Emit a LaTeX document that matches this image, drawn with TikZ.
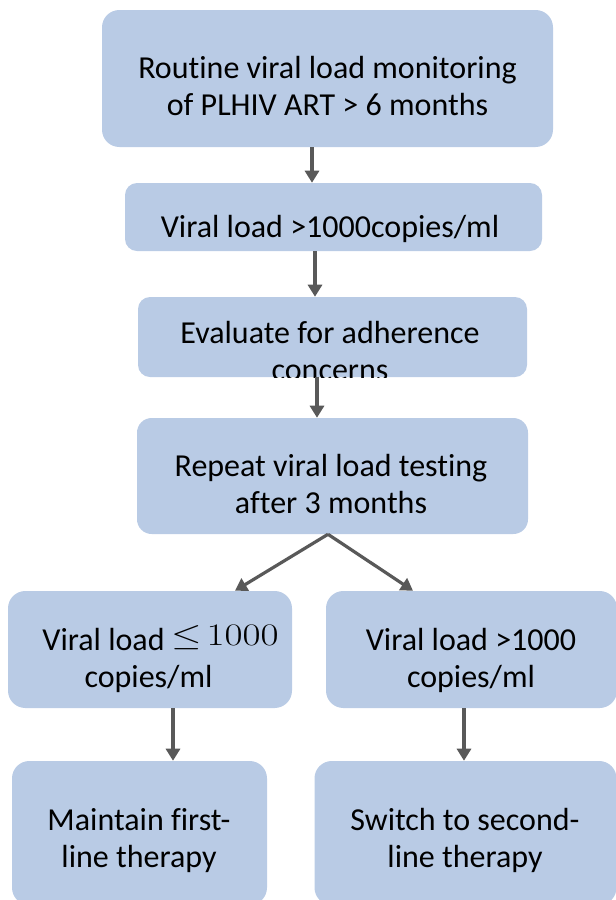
\RequirePackage{fix-cm}
\documentclass[tikz,border=0pt]{standalone}
\usepackage[no-math]{fontspec}
\usepackage{graphicx}
\setmainfont{Carlito}[Ligatures=NoCommon]
\usetikzlibrary{arrows.meta}
\definecolor{boxfill}{HTML}{B9CBE5}
\definecolor{arrowgray}{HTML}{595959}
\tikzset{
  box/.style={fill=boxfill, draw=none, inner sep=0pt, rounded corners=13pt},
  txt/.style={align=center, inner sep=0pt, font=\fontsize{24pt}{27.75pt}\selectfont, text=black, anchor=base},
  arr/.style={draw=arrowgray, line width=2.4pt, -{Triangle[width=10.5pt,length=9pt]}},
}
\begin{document}
\begin{tikzpicture}[x=0.75pt,y=-0.75pt]
\useasboundingbox (0,0) rectangle (616,900);
\begin{scope}
\clip (0,0) rectangle (616,900);
% boxes
\node[box, minimum width=338.25pt, minimum height=102.75pt] (b1) at (327.5,78.5) {};
\node[box, rounded corners=9pt, minimum width=312.75pt, minimum height=51pt] (b2) at (333.5,217) {};
\node[box, rounded corners=9pt, minimum width=291.75pt, minimum height=60pt] (b3) at (332.5,337) {};
\node[box, rounded corners=11pt, minimum width=293.25pt, minimum height=87pt] (b4) at (332.5,476) {};
\node[box, minimum width=213pt, minimum height=87.75pt] (b5) at (150,649.5) {};
\node[box, minimum width=218.25pt, minimum height=87.75pt] (b6) at (471.5,649.5) {};
\node[box, minimum width=191.25pt, minimum height=108pt] (b7) at (139.5,833) {};
\node[box, minimum width=226.5pt, minimum height=108pt] (b8) at (465.5,833) {};
% texts
\node[txt] (t1) at (327.5,115) {Routine viral load monitoring\\of PLHIV ART > 6 months};
\node[txt] (t2) at (330,237) {Viral load >1000copies/ml};
\begin{scope}
\clip (b3.south west) rectangle (b3.north east);
\node[txt] (t3) at (330,380) {Evaluate for adherence\\concerns};
\end{scope}
\node[txt] (t4) at (331,513) {Repeat viral load testing\\after 3 months};
\node[txt] (t5) at (148.5,687) {\hspace*{18pt}Viral load \raisebox{3.75pt}{\scalebox{1.25}[1]{\fontsize{23.5pt}{28pt}\selectfont$\leq\!1000$}}\\copies/ml};
\node[txt] (t6) at (471,687) {Viral load >1000\\copies/ml};
\node[txt] (t7) at (139,867) {Maintain first-\\line therapy};
\node[txt] (t8) at (465,867) {Switch to second-\\line therapy};
\end{scope}
% connector anchors
\coordinate (x1) at (312,0);
\coordinate (x2) at (315,0);
\coordinate (x3) at (317,0);
\coordinate (x4) at (328,0);
\coordinate (x5a) at (235,0);
\coordinate (x5b) at (413,0);
\coordinate (x6) at (173,0);
\coordinate (x7) at (464,0);
\draw[arr] (b1.south -| x1) -- (b2.north -| x1);
\draw[arr] (b2.south -| x2) -- (b3.north -| x2);
\draw[arr] (b3.south -| x3) -- (b4.north -| x3);
\draw[arr] (b4.south -| x4) -- (b5.north -| x5a);
\draw[arr] (b4.south -| x4) -- (b6.north -| x5b);
\draw[arr] (b5.south -| x6) -- (b7.north -| x6);
\draw[arr] (b6.south -| x7) -- (b8.north -| x7);
\end{tikzpicture}
\end{document}
